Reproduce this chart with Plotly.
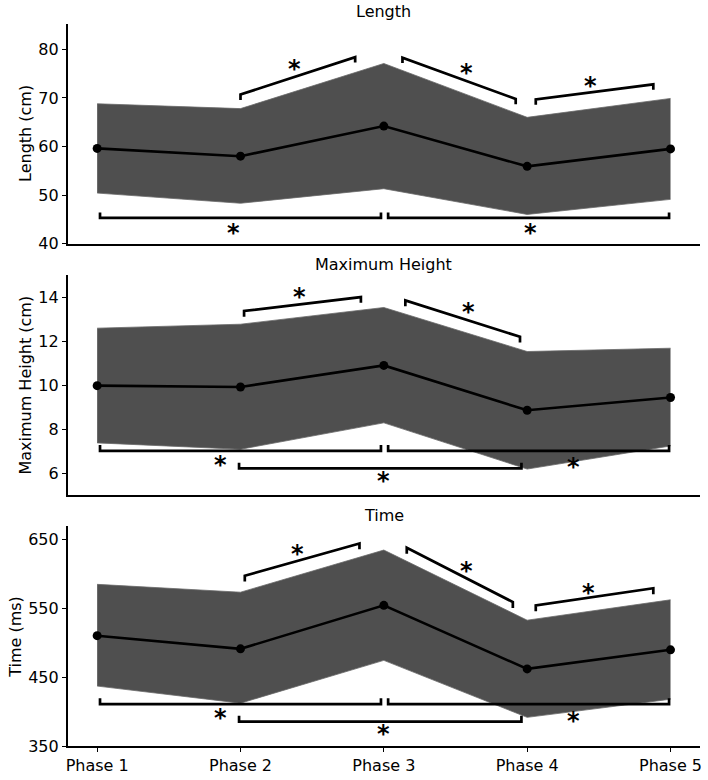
import plotly.graph_objects as go

# ---------------- data ----------------
phases = ["Phase 1", "Phase 2", "Phase 3", "Phase 4", "Phase 5"]
xpos = [0, 1, 2, 3, 4]

length_mean = [59.6, 58.0, 64.2, 55.9, 59.5]
length_upper = [68.8, 67.8, 77.1, 66.0, 69.9]
length_lower = [50.4, 48.3, 51.3, 46.0, 49.1]

height_mean = [9.98, 9.92, 10.9, 8.86, 9.44]
height_upper = [12.59, 12.77, 13.53, 11.53, 11.68]
height_lower = [7.38, 7.09, 8.29, 6.19, 7.24]

time_mean = [510.5, 491.4, 554.5, 462.3, 490.0]
time_upper = [585.0, 573.6, 634.8, 533.0, 562.6]
time_lower = [437.4, 412.6, 474.7, 392.0, 418.3]

# significance brackets: (x0, x1, y0, y1, tip) ; tip<0 -> tips point down, >0 -> up
length_brackets = [
    (1.00, 1.80, 70.7, 78.4, -1.1),
    (2.13, 2.92, 78.3, 69.8, -1.1),
    (3.06, 3.88, 69.7, 72.8, -1.1),
    (0.02, 1.98, 45.3, 45.3, 1.1),
    (2.03, 3.99, 45.3, 45.3, 1.1),
]
length_stars_x = [1.375, 2.58, 3.44, 0.948, 3.02]
length_stars_y = [77.3, 76.3, 73.75, 43.5, 43.5]

height_brackets = [
    (1.025, 1.84, 13.37, 14.0, -0.26),
    (2.15, 2.95, 13.85, 12.2, -0.26),
    (0.02, 1.98, 7.02, 7.02, 0.26),
    (2.03, 3.99, 7.02, 7.02, 0.26),
    (0.99, 2.96, 6.22, 6.22, 0.26),
]
height_stars_x = [1.41, 2.59, 0.86, 3.32, 2.0]
height_stars_y = [14.27, 13.59, 6.64, 6.54, 5.94]

time_brackets = [
    (1.03, 1.83, 597.5, 644.3, -8.5),
    (2.16, 2.90, 638.0, 559.3, -8.5),
    (3.06, 3.88, 554.5, 579.3, -8.5),
    (0.02, 1.98, 411.2, 411.2, 8.5),
    (2.03, 3.99, 411.2, 411.2, 8.5),
    (0.99, 2.96, 385.8, 385.8, 8.5),
]
time_stars_x = [1.40, 2.58, 3.43, 0.86, 3.32, 2.0]
time_stars_y = [638.1, 612.8, 581.7, 399.2, 395.9, 376.8]

titles = ["Length", "Maximum Height", "Time"]
ylabels = ["Length (cm)", "Maximum Height (cm)", "Time (ms)"]
yranges = [[40, 85.3], [5, 15], [350, 669]]
ytickvals = [[40, 50, 60, 70, 80], [6, 8, 10, 12, 14], [350, 450, 550, 650]]

# ---------------- layout geometry (pixels) ----------------
W, H = 708, 780
x_left, x_right = 66, 702
panels_px = [(24, 246.7), (278.7, 501.7), (533.3, 756)]
title_px = [12, 268, 521.7]
ylabel_x_px = [23.5, 23.5, 13.5]
FONT = "DejaVu Sans"

fig = go.Figure()

panels = [
    (length_mean, length_upper, length_lower, length_brackets, length_stars_x, length_stars_y),
    (height_mean, height_upper, height_lower, height_brackets, height_stars_x, height_stars_y),
    (time_mean, time_upper, time_lower, time_brackets, time_stars_x, time_stars_y),
]

annotations = []
for i, (mean, up, lo, brackets, sx, sy) in enumerate(panels):
    xa = "x" if i == 0 else f"x{i+1}"
    ya = "y" if i == 0 else f"y{i+1}"
    # band
    fig.add_trace(go.Scatter(x=xpos, y=up, xaxis=xa, yaxis=ya, mode="lines",
                             line=dict(color="#6a6a6a", width=0.8), showlegend=False,
                             hoverinfo="skip"))
    fig.add_trace(go.Scatter(x=xpos, y=lo, xaxis=xa, yaxis=ya, mode="lines",
                             line=dict(color="#6a6a6a", width=0.8), fill="tonexty",
                             fillcolor="#4f4f4f", showlegend=False, hoverinfo="skip"))
    # mean
    fig.add_trace(go.Scatter(x=xpos, y=mean, xaxis=xa, yaxis=ya, mode="lines+markers",
                             line=dict(color="black", width=2.6),
                             marker=dict(color="black", size=9), showlegend=False))
    # brackets
    bx, by = [], []
    for (x0, x1, y0, y1, tip) in brackets:
        bx += [x0, x0, x1, x1, None]
        by += [y0 + tip, y0, y1, y1 + tip, None]
    fig.add_trace(go.Scatter(x=bx, y=by, xaxis=xa, yaxis=ya, mode="lines",
                             line=dict(color="black", width=2.7), showlegend=False,
                             hoverinfo="skip"))
    # stars
    for xx, yy in zip(sx, sy):
        annotations.append(dict(x=xx, y=yy, xref=xa, yref=ya, text="<b>*</b>",
                                showarrow=False, xanchor="center", yanchor="middle",
                                yshift=-6, font=dict(family=FONT, size=24, color="black")))
    # title
    annotations.append(dict(x=(x_left + x_right) / 2 / W, y=1 - title_px[i] / H,
                            xref="paper", yref="paper", text=titles[i], showarrow=False,
                            xanchor="center", yanchor="middle",
                            font=dict(family=FONT, size=16, color="black")))
    # y label
    top, bot = panels_px[i]
    annotations.append(dict(x=ylabel_x_px[i] / W, y=1 - (top + bot) / 2 / H,
                            xref="paper", yref="paper",
                            text=ylabels[i], textangle=-90, showarrow=False,
                            xanchor="center", yanchor="middle",
                            font=dict(family=FONT, size=16, color="black")))

layout = dict(width=W, height=H, margin=dict(l=0, r=0, t=0, b=0),
              plot_bgcolor="white", paper_bgcolor="white",
              font=dict(family=FONT, size=16, color="black"),
              annotations=annotations, showlegend=False)

for i in range(3):
    top, bot = panels_px[i]
    xk = "xaxis" if i == 0 else f"xaxis{i+1}"
    yk = "yaxis" if i == 0 else f"yaxis{i+1}"
    ya = "y" if i == 0 else f"y{i+1}"
    xa = "x" if i == 0 else f"x{i+1}"
    last = (i == 2)
    layout[xk] = dict(domain=[x_left / W, x_right / W], range=[-0.206, 4.206],
                      anchor=ya, showgrid=False, zeroline=False, showline=True,
                      linecolor="black", linewidth=1.5,
                      tickmode="array", tickvals=xpos,
                      ticktext=phases if last else [""] * 5,
                      showticklabels=last,
                      ticks="outside" if last else "", ticklen=4, tickwidth=1.3,
                      tickcolor="black",
                      tickfont=dict(family=FONT, size=16, color="black"))
    layout[yk] = dict(domain=[1 - bot / H, 1 - top / H], range=yranges[i],
                      anchor=xa, showgrid=False, zeroline=False, showline=True,
                      linecolor="black", linewidth=1.5,
                      tickmode="array", tickvals=ytickvals[i],
                      ticks="outside", ticklen=4, tickwidth=1.3, tickcolor="black",
                      tickfont=dict(family=FONT, size=16, color="black"))

fig.update_layout(**layout)
fig.write_html("out.html")
